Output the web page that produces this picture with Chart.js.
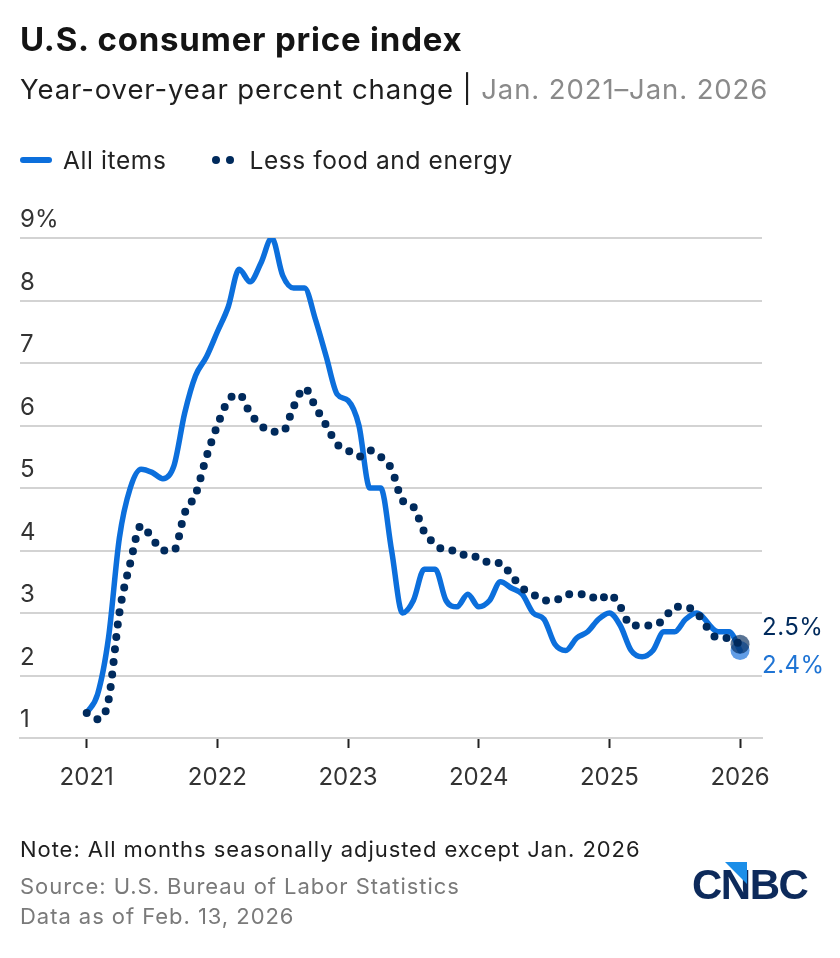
<!DOCTYPE html>
<html lang="en">
<head>
  <meta charset="UTF-8" />
  <title>U.S. consumer price index</title>
  <script src="https://cdn.jsdelivr.net/npm/chart.js"></script>
  <style>
    body { margin: 0; background: #fff; font-family: Inter, "Open Sans", sans-serif; }
    .page { position: relative; width: 840px; height: 958px; overflow: hidden; }
    .page canvas { position: absolute; left: 0; top: 0; }
    .txt { position: absolute; left: 20px; white-space: nowrap; }
    .title { top: 19px; font-size: 33px; font-weight: 700; color: #141414; letter-spacing: 0.8px; }
    .subtitle { top: 72px; font-size: 27.5px; color: #1e1e1e; letter-spacing: 0.9px; }
    .subtitle span { color: #8a8a8a; }
    .legend { top: 145px; font-size: 24.5px; color: #222; display: flex; align-items: center; letter-spacing: 0.6px; }
    .sw-line { width: 32px; height: 6px; border-radius: 3px; background: #0c6fdc; margin-right: 11px; }
    .sw-dots { display: flex; gap: 6px; margin: 0 15px 0 46px; }
    .sw-dots i { width: 8px; height: 8px; border-radius: 50%; background: #002a5c; display: block; }
    .note { top: 836px; font-size: 22px; color: #1e1e1e; letter-spacing: 0.95px; }
    .src { top: 873px; font-size: 22px; color: #7a7a7a; letter-spacing: 0.95px; }
    .asof { top: 903px; font-size: 22px; color: #7a7a7a; letter-spacing: 0.95px; }
    .logo { position: absolute; left: 692px; top: 862px; width: 130px; height: 42px; }
    .logo span { position: absolute; left: 0; top: 2px; font-family: "Liberation Sans", sans-serif;
                 font-weight: 700; font-size: 42px; line-height: 42px; color: #0d2a5b; letter-spacing: -1.5px; }
    .logo b { position: absolute; left: 33px; top: 0; width: 0; height: 0;
              border-right: 22px solid #1b8ee8; border-bottom: 22px solid transparent; }
  </style>
</head>
<body>
<div class="page">
  <canvas id="cpiChart" width="840" height="958"></canvas>
  <div class="txt title">U.S. consumer price index</div>
  <div class="txt subtitle">Year-over-year percent change | <span>Jan. 2021–Jan. 2026</span></div>
  <div class="txt legend">
    <div class="sw-line"></div>All items
    <div class="sw-dots"><i></i><i></i></div>Less food and energy
  </div>
  <div class="txt note">Note: All months seasonally adjusted except Jan. 2026</div>
  <div class="txt src">Source: U.S. Bureau of Labor Statistics</div>
  <div class="txt asof">Data as of Feb. 13, 2026</div>
  <div class="logo"><span>CNBC</span><b></b></div>
</div>

<script>
  // monthly, Jan 2021 .. Jan 2026 (Oct 2025 not published)
  const firstYear = 2021;
  const yearTicks = [2021, 2022, 2023, 2024, 2025, 2026];
  const yTicks = [1, 2, 3, 4, 5, 6, 7, 8, 9];

  const allItems = [
    1.4, 1.7, 2.6, 4.2, 5.0, 5.3, 5.25, 5.15, 5.35, 6.2, 6.8, 7.1,
    7.5, 7.9, 8.5, 8.3, 8.6, 9.0, 8.4, 8.2, 8.2, 7.7, 7.1, 6.5,
    6.4, 6.0, 5.0, 5.0, 4.0, 3.0, 3.2, 3.7, 3.7, 3.2, 3.1, 3.3,
    3.1, 3.2, 3.5, 3.4, 3.3, 3.0, 2.9, 2.5, 2.4, 2.6, 2.7, 2.9,
    3.0, 2.8, 2.4, 2.3, 2.4, 2.7, 2.7, 2.9, 3.0, null, 2.7, 2.7,
    2.4
  ];
  const core = [
    1.4, 1.3, 1.6, 3.0, 3.8, 4.4, 4.2, 4.0, 4.0, 4.6, 4.9, 5.5,
    6.0, 6.4, 6.5, 6.2, 6.0, 5.9, 5.9, 6.3, 6.6, 6.3, 6.0, 5.7,
    5.6, 5.5, 5.6, 5.5, 5.3, 4.8, 4.7, 4.3, 4.1, 4.0, 4.0, 3.9,
    3.9, 3.8, 3.8, 3.6, 3.4, 3.3, 3.2, 3.2, 3.3, 3.3, 3.3, 3.2,
    3.3, 3.1, 2.8, 2.8, 2.8, 2.9, 3.1, 3.1, 3.0, null, 2.6, 2.6,
    2.5
  ];

  const BLUE = '#0c6fdc';
  const NAVY = '#002a5c';
  const FONT = 'Inter, "Open Sans", sans-serif';

  const toPoints = arr => arr.map((v, i) => ({ x: firstYear + i / 12, y: v }));
  const lastOnly = (arr, r) => arr.map((v, i) => (i === arr.length - 1 ? r : 0));

  // end-of-line value labels
  const endLabels = {
    id: 'endLabels',
    afterDatasetsDraw(chart) {
      const { ctx, scales: { x, y } } = chart;
      const n = allItems.length - 1;
      const xPos = x.getPixelForValue(firstYear + n / 12) + 22;
      ctx.save();
      ctx.font = '24px ' + FONT;
      ctx.letterSpacing = '0.5px';
      ctx.textAlign = 'left';
      ctx.textBaseline = 'middle';
      ctx.fillStyle = NAVY;
      ctx.fillText(core[n].toFixed(1) + '%', xPos, y.getPixelForValue(core[n]) - 16);
      ctx.fillStyle = '#1f74d4';
      ctx.fillText(allItems[n].toFixed(1) + '%', xPos, y.getPixelForValue(allItems[n]) + 15);
      ctx.restore();
    }
  };

  new Chart(document.getElementById('cpiChart'), {
    type: 'line',
    data: {
      datasets: [
        {
          label: 'All items',
          data: toPoints(allItems),
          borderColor: BLUE,
          borderWidth: 5.5,
          borderCapStyle: 'round',
          borderJoinStyle: 'round',
          cubicInterpolationMode: 'monotone',
          spanGaps: true,
          pointRadius: lastOnly(allItems, 9.5),
          pointBackgroundColor: 'rgba(30,115,220,0.7)',
          pointBorderWidth: 0,
          order: 1
        },
        {
          label: 'Less food and energy',
          data: toPoints(core),
          borderColor: NAVY,
          borderWidth: 8,
          borderCapStyle: 'round',
          borderDash: [0, 12.5],
          cubicInterpolationMode: 'monotone',
          spanGaps: true,
          pointRadius: lastOnly(core, 9.5),
          pointBackgroundColor: 'rgba(0,42,92,0.65)',
          pointBorderWidth: 0,
          order: 0
        }
      ]
    },
    options: {
      responsive: false,
      animation: false,
      layout: { padding: { left: 20, right: 78, top: 238, bottom: 160 } },
      plugins: { legend: { display: false }, tooltip: { enabled: false } },
      scales: {
        x: {
          type: 'linear',
          min: 2020.4895,
          max: 2026.168,
          afterBuildTicks: axis => { axis.ticks = yearTicks.map(v => ({ value: v })); },
          afterFit: axis => { axis.height = 60; },
          grid: { drawOnChartArea: false, drawTicks: true, tickLength: 10, tickColor: '#222', tickWidth: 2 },
          border: { display: true, color: '#d3d3d3', width: 2 },
          ticks: { padding: 15, color: '#333', font: { family: FONT, size: 24 }, callback: v => String(v), maxRotation: 0 }
        },
        y: {
          min: 1,
          max: 9,
          afterBuildTicks: axis => { axis.ticks = yTicks.map(v => ({ value: v })); },
          afterFit: axis => { axis.width = 0; },
          grid: { color: '#d3d3d3', lineWidth: 2, drawTicks: false },
          border: { display: false },
          ticks: {
            mirror: true, padding: 0, labelOffset: -18,
            color: '#333', font: { family: FONT, size: 24 },
            callback: v => (v === 9 ? v + '%' : String(v))
          }
        }
      }
    },
    plugins: [endLabels]
  });
</script>
</body>
</html>
